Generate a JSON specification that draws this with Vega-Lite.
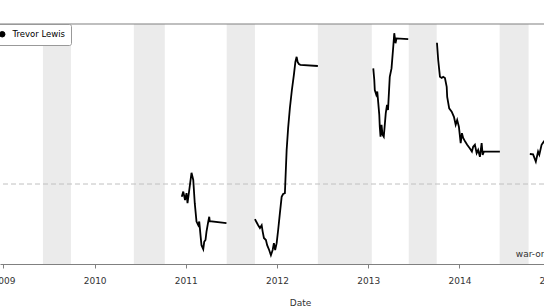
{
  "$schema": "https://vega.github.io/schema/vega-lite/v6.json",
  "width": 600,
  "height": 240,
  "autosize": "none",
  "padding": {"left": 0, "top": 24, "right": -56, "bottom": 42},
  "background": "white",
  "config": {
    "view": {"stroke": null},
    "font": "DejaVu Sans"
  },
  "datasets": {
    "bands": [
      {"start": "2009-06-08", "end": "2009-09-28"},
      {"start": "2010-06-07", "end": "2010-10-09"},
      {"start": "2011-06-14", "end": "2011-10-05"},
      {"start": "2012-06-13", "end": "2013-01-15"},
      {"start": "2013-06-12", "end": "2013-10-02"},
      {"start": "2014-06-11", "end": "2014-10-05"}
    ],
    "war": [
      {"player": "Trevor Lewis", "season": "2010-11", "date": "2010-12-16", "value": -0.32},
      {"player": "Trevor Lewis", "season": "2010-11", "date": "2010-12-22", "value": -0.19},
      {"player": "Trevor Lewis", "season": "2010-11", "date": "2010-12-29", "value": -0.40},
      {"player": "Trevor Lewis", "season": "2010-11", "date": "2011-01-04", "value": -0.23},
      {"player": "Trevor Lewis", "season": "2010-11", "date": "2011-01-08", "value": -0.48},
      {"player": "Trevor Lewis", "season": "2010-11", "date": "2011-01-15", "value": -0.15},
      {"player": "Trevor Lewis", "season": "2010-11", "date": "2011-01-24", "value": 0.28},
      {"player": "Trevor Lewis", "season": "2010-11", "date": "2011-01-31", "value": 0.10},
      {"player": "Trevor Lewis", "season": "2010-11", "date": "2011-02-06", "value": -0.48},
      {"player": "Trevor Lewis", "season": "2010-11", "date": "2011-02-13", "value": -0.94},
      {"player": "Trevor Lewis", "season": "2010-11", "date": "2011-02-20", "value": -1.03},
      {"player": "Trevor Lewis", "season": "2010-11", "date": "2011-02-24", "value": -0.94},
      {"player": "Trevor Lewis", "season": "2010-11", "date": "2011-03-01", "value": -1.28},
      {"player": "Trevor Lewis", "season": "2010-11", "date": "2011-03-05", "value": -1.53},
      {"player": "Trevor Lewis", "season": "2010-11", "date": "2011-03-12", "value": -1.63},
      {"player": "Trevor Lewis", "season": "2010-11", "date": "2011-03-16", "value": -1.44},
      {"player": "Trevor Lewis", "season": "2010-11", "date": "2011-03-21", "value": -1.40},
      {"player": "Trevor Lewis", "season": "2010-11", "date": "2011-03-25", "value": -1.19},
      {"player": "Trevor Lewis", "season": "2010-11", "date": "2011-04-01", "value": -0.94},
      {"player": "Trevor Lewis", "season": "2010-11", "date": "2011-04-05", "value": -0.82},
      {"player": "Trevor Lewis", "season": "2010-11", "date": "2011-04-07", "value": -0.93},
      {"player": "Trevor Lewis", "season": "2010-11", "date": "2011-06-13", "value": -0.98},
      {"player": "Trevor Lewis", "season": "2011-12", "date": "2011-10-05", "value": -0.88},
      {"player": "Trevor Lewis", "season": "2011-12", "date": "2011-10-11", "value": -0.95},
      {"player": "Trevor Lewis", "season": "2011-12", "date": "2011-10-18", "value": -1.03},
      {"player": "Trevor Lewis", "season": "2011-12", "date": "2011-10-25", "value": -1.10},
      {"player": "Trevor Lewis", "season": "2011-12", "date": "2011-11-01", "value": -1.03},
      {"player": "Trevor Lewis", "season": "2011-12", "date": "2011-11-05", "value": -1.19},
      {"player": "Trevor Lewis", "season": "2011-12", "date": "2011-11-10", "value": -1.35},
      {"player": "Trevor Lewis", "season": "2011-12", "date": "2011-11-18", "value": -1.40},
      {"player": "Trevor Lewis", "season": "2011-12", "date": "2011-11-23", "value": -1.53},
      {"player": "Trevor Lewis", "season": "2011-12", "date": "2011-12-01", "value": -1.65},
      {"player": "Trevor Lewis", "season": "2011-12", "date": "2011-12-08", "value": -1.78},
      {"player": "Trevor Lewis", "season": "2011-12", "date": "2011-12-15", "value": -1.65},
      {"player": "Trevor Lewis", "season": "2011-12", "date": "2011-12-20", "value": -1.48},
      {"player": "Trevor Lewis", "season": "2011-12", "date": "2011-12-25", "value": -1.65},
      {"player": "Trevor Lewis", "season": "2011-12", "date": "2011-12-31", "value": -1.48},
      {"player": "Trevor Lewis", "season": "2011-12", "date": "2012-01-06", "value": -1.15},
      {"player": "Trevor Lewis", "season": "2011-12", "date": "2012-01-13", "value": -0.73},
      {"player": "Trevor Lewis", "season": "2011-12", "date": "2012-01-20", "value": -0.32},
      {"player": "Trevor Lewis", "season": "2011-12", "date": "2012-01-26", "value": -0.25},
      {"player": "Trevor Lewis", "season": "2011-12", "date": "2012-02-02", "value": -0.23},
      {"player": "Trevor Lewis", "season": "2011-12", "date": "2012-02-09", "value": 0.85},
      {"player": "Trevor Lewis", "season": "2011-12", "date": "2012-02-15", "value": 1.40},
      {"player": "Trevor Lewis", "season": "2011-12", "date": "2012-02-22", "value": 1.90},
      {"player": "Trevor Lewis", "season": "2011-12", "date": "2012-03-01", "value": 2.35},
      {"player": "Trevor Lewis", "season": "2011-12", "date": "2012-03-09", "value": 2.73},
      {"player": "Trevor Lewis", "season": "2011-12", "date": "2012-03-15", "value": 3.05},
      {"player": "Trevor Lewis", "season": "2011-12", "date": "2012-03-20", "value": 3.18},
      {"player": "Trevor Lewis", "season": "2011-12", "date": "2012-03-24", "value": 3.05},
      {"player": "Trevor Lewis", "season": "2011-12", "date": "2012-03-29", "value": 3.00},
      {"player": "Trevor Lewis", "season": "2011-12", "date": "2012-04-04", "value": 2.98},
      {"player": "Trevor Lewis", "season": "2011-12", "date": "2012-06-13", "value": 2.95},
      {"player": "Trevor Lewis", "season": "2013", "date": "2013-01-21", "value": 2.89},
      {"player": "Trevor Lewis", "season": "2013", "date": "2013-01-25", "value": 2.60},
      {"player": "Trevor Lewis", "season": "2013", "date": "2013-01-27", "value": 2.35},
      {"player": "Trevor Lewis", "season": "2013", "date": "2013-02-02", "value": 2.23},
      {"player": "Trevor Lewis", "season": "2013", "date": "2013-02-06", "value": 2.31},
      {"player": "Trevor Lewis", "season": "2013", "date": "2013-02-10", "value": 2.02},
      {"player": "Trevor Lewis", "season": "2013", "date": "2013-02-14", "value": 1.73},
      {"player": "Trevor Lewis", "season": "2013", "date": "2013-02-16", "value": 1.43},
      {"player": "Trevor Lewis", "season": "2013", "date": "2013-02-19", "value": 1.18},
      {"player": "Trevor Lewis", "season": "2013", "date": "2013-02-23", "value": 1.48},
      {"player": "Trevor Lewis", "season": "2013", "date": "2013-02-27", "value": 1.23},
      {"player": "Trevor Lewis", "season": "2013", "date": "2013-03-04", "value": 1.18},
      {"player": "Trevor Lewis", "season": "2013", "date": "2013-03-12", "value": 1.77},
      {"player": "Trevor Lewis", "season": "2013", "date": "2013-03-17", "value": 1.98},
      {"player": "Trevor Lewis", "season": "2013", "date": "2013-03-21", "value": 1.85},
      {"player": "Trevor Lewis", "season": "2013", "date": "2013-03-28", "value": 2.68},
      {"player": "Trevor Lewis", "season": "2013", "date": "2013-04-04", "value": 2.89},
      {"player": "Trevor Lewis", "season": "2013", "date": "2013-04-11", "value": 3.43},
      {"player": "Trevor Lewis", "season": "2013", "date": "2013-04-15", "value": 3.77},
      {"player": "Trevor Lewis", "season": "2013", "date": "2013-04-20", "value": 3.52},
      {"player": "Trevor Lewis", "season": "2013", "date": "2013-04-24", "value": 3.64},
      {"player": "Trevor Lewis", "season": "2013", "date": "2013-06-10", "value": 3.62},
      {"player": "Trevor Lewis", "season": "2013-14", "date": "2013-10-03", "value": 3.53},
      {"player": "Trevor Lewis", "season": "2013-14", "date": "2013-10-08", "value": 3.10},
      {"player": "Trevor Lewis", "season": "2013-14", "date": "2013-10-15", "value": 2.68},
      {"player": "Trevor Lewis", "season": "2013-14", "date": "2013-10-22", "value": 2.65},
      {"player": "Trevor Lewis", "season": "2013-14", "date": "2013-10-28", "value": 2.68},
      {"player": "Trevor Lewis", "season": "2013-14", "date": "2013-11-04", "value": 2.65},
      {"player": "Trevor Lewis", "season": "2013-14", "date": "2013-11-11", "value": 2.43},
      {"player": "Trevor Lewis", "season": "2013-14", "date": "2013-11-13", "value": 2.18},
      {"player": "Trevor Lewis", "season": "2013-14", "date": "2013-11-21", "value": 1.89},
      {"player": "Trevor Lewis", "season": "2013-14", "date": "2013-12-01", "value": 1.81},
      {"player": "Trevor Lewis", "season": "2013-14", "date": "2013-12-10", "value": 1.68},
      {"player": "Trevor Lewis", "season": "2013-14", "date": "2013-12-17", "value": 1.48},
      {"player": "Trevor Lewis", "season": "2013-14", "date": "2013-12-23", "value": 1.60},
      {"player": "Trevor Lewis", "season": "2013-14", "date": "2013-12-30", "value": 1.43},
      {"player": "Trevor Lewis", "season": "2013-14", "date": "2014-01-06", "value": 1.02},
      {"player": "Trevor Lewis", "season": "2013-14", "date": "2014-01-11", "value": 1.27},
      {"player": "Trevor Lewis", "season": "2013-14", "date": "2014-01-16", "value": 1.15},
      {"player": "Trevor Lewis", "season": "2013-14", "date": "2014-01-24", "value": 1.06},
      {"player": "Trevor Lewis", "season": "2013-14", "date": "2014-02-01", "value": 0.98},
      {"player": "Trevor Lewis", "season": "2013-14", "date": "2014-02-12", "value": 0.89},
      {"player": "Trevor Lewis", "season": "2013-14", "date": "2014-02-20", "value": 0.81},
      {"player": "Trevor Lewis", "season": "2013-14", "date": "2014-02-25", "value": 0.93},
      {"player": "Trevor Lewis", "season": "2013-14", "date": "2014-03-04", "value": 0.98},
      {"player": "Trevor Lewis", "season": "2013-14", "date": "2014-03-11", "value": 0.77},
      {"player": "Trevor Lewis", "season": "2013-14", "date": "2014-03-17", "value": 0.85},
      {"player": "Trevor Lewis", "season": "2013-14", "date": "2014-03-24", "value": 0.68},
      {"player": "Trevor Lewis", "season": "2013-14", "date": "2014-03-31", "value": 1.02},
      {"player": "Trevor Lewis", "season": "2013-14", "date": "2014-04-04", "value": 0.73},
      {"player": "Trevor Lewis", "season": "2013-14", "date": "2014-04-09", "value": 0.81},
      {"player": "Trevor Lewis", "season": "2013-14", "date": "2014-04-20", "value": 0.81},
      {"player": "Trevor Lewis", "season": "2013-14", "date": "2014-06-12", "value": 0.81},
      {"player": "Trevor Lewis", "season": "2014-15", "date": "2014-10-10", "value": 0.75},
      {"player": "Trevor Lewis", "season": "2014-15", "date": "2014-10-23", "value": 0.74},
      {"player": "Trevor Lewis", "season": "2014-15", "date": "2014-11-03", "value": 0.56},
      {"player": "Trevor Lewis", "season": "2014-15", "date": "2014-11-12", "value": 0.81},
      {"player": "Trevor Lewis", "season": "2014-15", "date": "2014-11-17", "value": 0.73},
      {"player": "Trevor Lewis", "season": "2014-15", "date": "2014-11-26", "value": 0.98},
      {"player": "Trevor Lewis", "season": "2014-15", "date": "2014-12-05", "value": 1.06},
      {"player": "Trevor Lewis", "season": "2014-15", "date": "2014-12-17", "value": 1.15}
    ]
  },
  "layer": [
    {
      "data": {"name": "bands"},
      "mark": {"type": "rect", "color": "#ebebeb"},
      "encoding": {
        "x": {
          "field": "start", "type": "temporal",
          "scale": {"domain": [{"year": 2008, "month": 12, "date": 18}, {"year": 2015, "month": 7, "date": 18}], "nice": false},
          "axis": {
            "format": "%Y",
            "tickCount": {"interval": "year", "step": 1},
            "grid": false,
            "title": "Date",
            "titleFont": "DejaVu Sans",
            "titleFontSize": 9,
            "titleFontWeight": "normal",
            "titleColor": "#333333",
            "titlePadding": 13,
            "labelFont": "DejaVu Sans",
            "labelFontSize": 9,
            "labelColor": "#333333",
            "labelPadding": 8,
            "labelOverlap": false,
            "labelFlush": false,
            "domainColor": "#808080",
            "domainWidth": 1.2,
            "tickColor": "#808080",
            "tickSize": 4
          }
        },
        "x2": {"field": "end"},
        "y": {"datum": -2, "type": "quantitative", "scale": {"domain": [-2, 4], "nice": false, "zero": false}, "axis": null},
        "y2": {"datum": 4}
      }
    },
    {
      "data": {"values": [{"ref": 0}]},
      "mark": {"type": "rule", "color": "#c0c0c0", "strokeDash": [5, 3], "strokeWidth": 1},
      "encoding": {"y": {"field": "ref", "type": "quantitative"}}
    },
    {
      "data": {"name": "war"},
      "mark": {"type": "line", "strokeWidth": 1.8, "interpolate": "linear"},
      "encoding": {
        "x": {"field": "date", "type": "temporal"},
        "y": {"field": "value", "type": "quantitative"},
        "detail": {"field": "season"},
        "color": {
          "field": "player", "type": "nominal",
          "scale": {"range": ["#000000"]},
          "legend": {
            "orient": "none",
            "legendX": -8,
            "legendY": 0,
            "title": null,
            "padding": 6,
            "fillColor": "white",
            "strokeColor": "#999999",
            "cornerRadius": 2,
            "symbolType": "circle",
            "symbolSize": 30,
            "symbolFillColor": "black",
            "symbolStrokeColor": "black",
            "symbolStrokeWidth": 1,
            "labelFont": "DejaVu Sans",
            "labelFontSize": 8.5,
            "labelColor": "#000000",
            "labelOffset": 6
          }
        }
      }
    },
    {
      "data": {"values": [{"ref": 4}]},
      "mark": {"type": "rule", "color": "#808080", "strokeWidth": 1.2},
      "encoding": {"y": {"field": "ref", "type": "quantitative"}}
    },
    {
      "data": {"values": [{"label": "war-on-ice.com", "date": "2014-08-15", "value": -1.75}]},
      "mark": {"type": "text", "align": "left", "baseline": "middle", "font": "DejaVu Sans", "fontSize": 9, "color": "#333333"},
      "encoding": {
        "text": {"field": "label"},
        "x": {"field": "date", "type": "temporal"},
        "y": {"field": "value", "type": "quantitative"}
      }
    }
  ]
}
